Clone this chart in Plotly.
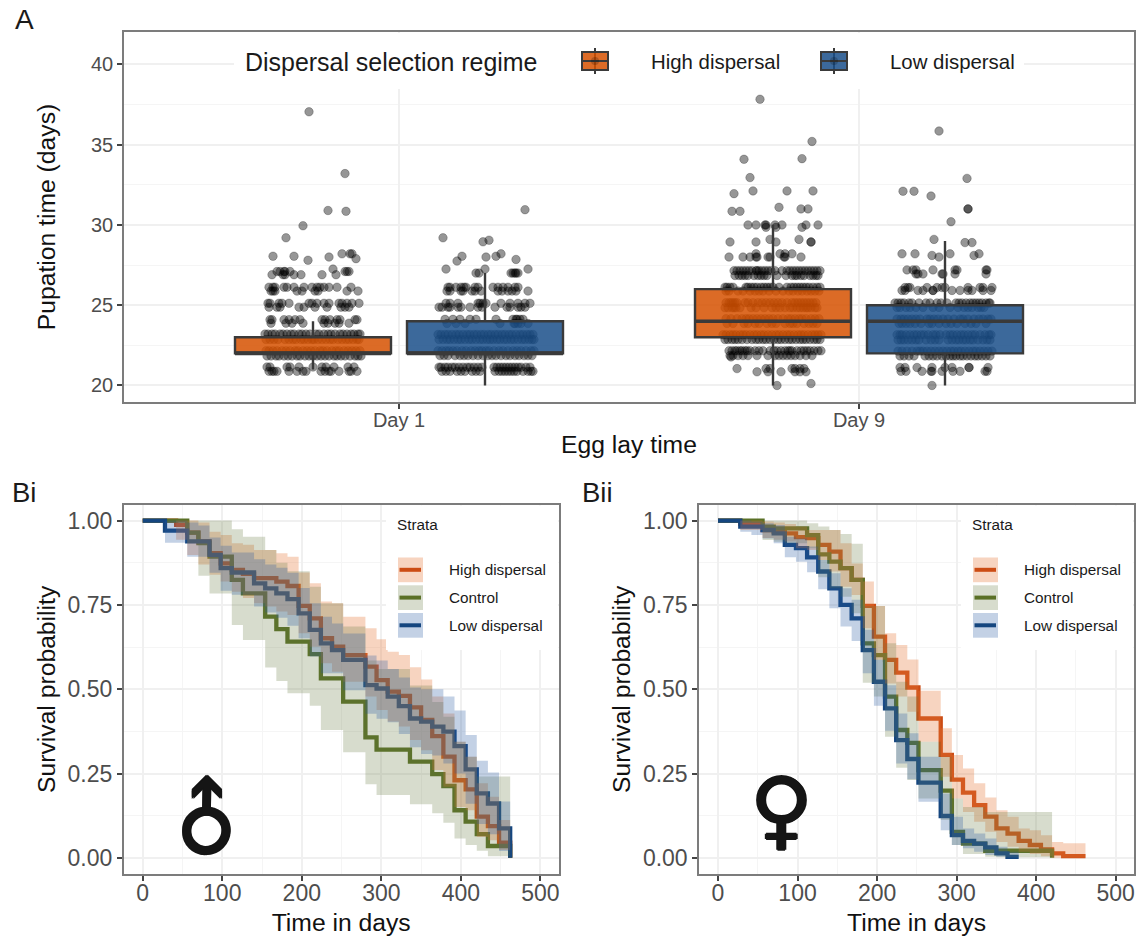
import plotly.graph_objects as go

W, H = 1139, 936
FONT = "Liberation Sans"

# ---------- Panel A: pupation time ----------
group_pos = {"d1_high": -86, "d1_low": 86, "d9_high": 374, "d9_low": 546}
day_ticks = [0, 460]
day_labels = ["Day 1", "Day 9"]
box_width = 156

# five number summaries: low whisker, q1, median, q3, high whisker
d1_high_box = [21, 22, 22, 23, 24]
d1_low_box = [20, 22, 22, 24, 27]
d9_high_box = [20, 23, 24, 26, 30]
d9_low_box = [20, 22, 24, 25, 29]

# (pupation time, horizontal jitter offsets)
d1_high_points = [
    (37.05, [-4]), (33.2, [32]), (30.9, [15]), (30.85, [33]), (29.95, [-10]), (29.2, [-27]),
    (28.05, [-40, -19]), (27.8, [-5]), (28.0, [16]), (28.2, [29, 37, 39]), (27.9, [43]),
    (27.25, [20]), (27.1, [-36, -33, -29, -28, -23, 32, 34, 36]), (26.9, [-41, -30, -28, -19, -12, 9, 23]),
    (26.12, [-44, -40, -38, -29, -26, -19, -9, -1, 4, 7, 11, 16, 24, 38]),
    (25.88, [-42, -40, -38, -16, -11, 2, 5, 34, 45]),
    (25.12, [-45, -43, -34, -31, -24, -4, -1, 4, 11, 16, 26, 29, 34, 39, 46]),
    (24.88, [-44, -36, -33, -14, -9, 2, 14, 28, 32, 36]),
    (24.1, [-43, -41, -29, -24, -18, -13, 9, 12, 17, 24, 27, 42, 44]),
    (23.88, [-42, -27, -21, -10, 11, 15, 22, 26, 36]),
    (23.2, [-48, -45, -41, -38, -33, -30, -26, -22, -19, -14, -11, -7, -3, 3, 6, 11, 15, 18, 22, 27, 30, 34, 38, 41, 45, 47]),
    (22.86, [-47, -43, -39, -35, -28, -24, -20, -17, -12, -9, -5, -1, 1, 5, 9, 13, 17, 20, 25, 29, 33, 36, 40, 44, 46]),
    (22.16, [-47, -44, -40, -36, -31, -27, -23, -18, -15, -10, -6, -2, 2, 7, 10, 14, 19, 23, 26, 31, 35, 39, 43, 47]),
    (21.84, [-46, -42, -37, -34, -29, -25, -21, -16, -13, -8, -4, 0, 4, 8, 12, 16, 21, 24, 28, 32, 37, 42, 45, 48]),
    (21.15, [-46, -43, -26, -23, -14, 0, 9, 13, 21, 35, 41]),
    (20.88, [-44, -41, -39, -36, -24, -16, -10, -7, 8, 12, 16, 18, 26, 36, 38, 44]),
]
d1_low_points = [
    (30.95, [40]), (29.2, [-42]), (28.95, [-2]), (29.05, [4]), (28.2, [16]), (28.05, [11, -23]),
    (28.0, [1]), (27.75, [-28]), (27.85, [31]), (27.25, [-39, 0, 43]),
    (27.0, [-9, -6, 26, 28, 30, 31, 33]),
    (26.12, [-37, -35, -29, -24, -21, -19, -10, -7, 8, 13, 18, 23, 30, 33]),
    (25.88, [-38, -35, -24, -22, -13, -10, -4, 13, 17, 23, 27, 31, 43]),
    (25.12, [-39, -35, -27, -7, -5, -2, 1, 16, 25, 33, 40, 45]),
    (24.88, [-46, -43, -37, -35, -27, -24, -15, -7, -3, 10, 22, 25, 33, 36, 40]),
    (24.12, [-40, -32, -25, -15, -9, 11, 28, 31, 32, 35, 38]),
    (23.86, [-38, -29, -20, 15, 29, 30, 33, 36, 43]),
    (23.18, [-47, -44, -40, -37, -33, -29, -26, -22, -18, -15, -11, -8, -4, -1, 3, 6, 10, 13, 17, 20, 24, 27, 31, 35, 38, 42, 45, 48]),
    (22.86, [-46, -42, -38, -35, -31, -27, -24, -20, -16, -13, -9, -5, -2, 2, 5, 8, 12, 15, 19, 22, 26, 29, 33, 37, 40, 44, 47, 49]),
    (22.16, [-47, -43, -39, -36, -32, -28, -23, -19, -14, -10, -6, -3, 1, 4, 9, 14, 18, 23, 28, 32, 36, 41, 46, 49]),
    (21.86, [-45, -41, -37, -30, -25, -21, -17, -12, -7, -2, 3, 7, 11, 16, 21, 25, 30, 34, 39, 43, 47]),
    (21.14, [-46, -44, -40, -37, -33, -30, -26, -22, -18, -15, -11, -7, -3, 9, 12, 15, 18, 21, 24, 27, 30, 33, 36, 41, 45]),
    (20.88, [-43, -39, -35, -28, -24, -20, -13, -9, -5, 10, 14, 17, 20, 23, 26, 29, 32, 38, 43, 46, 48]),
]
d9_high_points = [
    (37.83, [-13]), (35.2, [39]), (34.09, [-29]), (34.13, [29]), (32.95, [-23]), (32.12, [-20, 14, 40]),
    (31.95, [-39]), (31.1, [6]), (31.0, [28, 35]), (30.85, [-41, -33]),
    (30.0, [-25, -17, -8, -7, 2, 9, 33, 45]), (29.85, [29, -7, 3]),
    (28.94, [-43, -17, 3, 38, 38]), (29.1, [-3, 26]),
    (28.0, [-44, -30, -23, -17, -16, -5, -3, 11, 12, 28]), (28.2, [-17, 7, 19, 12]),
    (27.15, [-39, -36, -33, -30, -27, -24, -21, -17, -16, -14, -11, -8, -5, -2, 2, 9, 14, 17, 20, 23, 26, 29, 32, 35, 38, 41, 44, 47]),
    (26.85, [-38, -34, -31, -28, -25, -19, -15, -12, -9, -6, 4, 13, 19, 22, 24, 28, 31, 37, 40, 43, 45]),
    (26.12, [-48, -46, -43, -40, -27, -25, -22, -19, -16, -12, -9, -6, -3, 0, 6, 14, 18, 21, 24, 27, 30, 33, 36, 40, 44, 47]),
    (25.88, [-47, -44, -35, -30, -23, -18, -14, -10, -4, 3, 10, 16, 20, 25, 29, 34, 38, 42, 46]),
    (25.16, [-47, -44, -42, -40, -38, -36, -28, -25, -20, -15, -11, -7, -3, 1, 5, 9, 14, 19, 22, 25, 28, 31, 34, 37, 40, 43]),
    (24.84, [-48, -45, -41, -39, -37, -33, -22, -17, -9, -1, 3, 7, 12, 17, 20, 24, 27, 30, 33, 35, 38, 42, 44]),
    (24.16, [-47, -42, -36, -31, -27, -24, -20, -16, -12, -8, -4, 0, 5, 10, 15, 18, 22, 26, 29, 33, 38, 42, 46]),
    (23.86, [-46, -40, -29, -25, -18, -14, -6, -1, 3, 12, 17, 20, 24, 31, 36, 40, 44]),
    (23.16, [-50, -47, -43, -40, -37, -33, -30, -27, -23, -19, -16, -12, -9, -5, -1, 3, 6, 10, 14, 17, 21, 25, 28, 31, 35, 39, 42, 45, 48]),
    (22.86, [-48, -45, -41, -38, -35, -31, -26, -21, -17, -14, -10, -7, -3, 1, 5, 8, 12, 16, 19, 23, 27, 30, 33, 37, 41, 44, 47]),
    (22.16, [-44, -41, -38, -36, -33, -31, -28, -26, -23, -18, -14, -10, -3, 1, 4, 8, 12, 15, 17, 19, 24, 28, 31, 34, 37, 41, 45, 48]),
    (21.86, [-43, -40, -35, -30, -25, -16, -5, 2, 6, 10, 14, 18, 22, 27, 33, 39]),
    (21.78, [-42]),
    (21.05, [-36, -7, -3, 19, 22, 27, 31]), (20.85, [-16, 8, 22, 33, -5, 27]),
    (20.12, [38]), (20.0, [4]),
]
d9_low_points = [
    (35.85, [-6]), (32.9, [22]), (32.1, [-42, -31]), (31.8, [-14]), (31.0, [23, 23]), (30.2, [6]),
    (29.1, [-11]), (28.9, [20, 27]), (28.2, [-43, -30, 5, 34]), (28.1, [-13, 29]), (28.0, [-6]),
    (27.2, [-38, -32, -29, -12, 10, 12, 41, 42]), (26.95, [-29, -27, -22, -3, -2, 10, 41]),
    (26.1, [-40, -37, -35, -18, -8, -3, 0, 23, 35, 38, 47]),
    (25.92, [-43, -40, -27, -22, -12, -12, 7, 15, 23, 27, 38, 46]),
    (25.14, [-50, -47, -44, -41, -36, -33, -26, -19, -15, -8, -4, 2, 11, 14, 17, 21, 25, 28, 31, 34, 37, 41, 44, 45]),
    (24.86, [-48, -45, -39, -35, -29, -22, -12, -6, 5, 13, 19, 23, 27, 33, 36, 39]),
    (24.14, [-48, -44, -41, -37, -33, -29, -25, -18, -15, -11, -7, -2, 3, 9, 15, 18, 23, 29, 34, 38, 43, 46]),
    (23.86, [-46, -43, -39, -35, -30, -24, -16, -13, -6, 1, 6, 12, 20, 26, 31, 41]),
    (23.16, [-48, -45, -43, -39, -35, -31, -28, -24, -21, -17, -12, -9, -5, 1, 5, 8, 12, 16, 19, 23, 27, 30, 35, 40, 44, 46]),
    (22.84, [-47, -44, -41, -37, -33, -29, -26, -19, -14, -10, -6, 3, 7, 11, 14, 18, 21, 25, 28, 33, 38, 42, 45]),
    (22.14, [-47, -43, -38, -33, -28, -25, -22, -18, -14, -10, -6, -2, 2, 6, 9, 13, 16, 20, 24, 28, 31, 35, 39, 43, 47]),
    (21.84, [-45, -41, -36, -31, -20, -16, -12, -8, -3, 1, 5, 8, 11, 15, 18, 22, 26, 30, 33, 37, 41, 45]),
    (21.12, [-45, -40, -28, -13, 0, 7, 24, 24, 43]),
    (20.88, [-44, -39, -23, -14, -13, -3, 8, 15, 40, 42]),
    (20.0, [-13]),
]

# ---------- Panels B: survival curves, values at 14-day census times ----------
times = [0, 28, 42, 56, 70, 84, 98, 112, 126, 140, 154, 168, 182, 196, 210, 224, 238, 252,
         280, 294, 308, 322, 336, 350, 364, 378, 392, 406, 420, 434, 448, 462]

male_high = [1, 1, .987, .964, .938, .903, .873, .854, .842, .829, .829, .819, .806, .747, .710, .651, .626, .601, .567, .527, .493, .480, .446, .409, .361, .300, .230, .203, .122, .094, .045, 0]
male_high_up = [1, 1, 1, 1, .994, .967, .957, .933, .928, .913, .913, .903, .893, .846, .814, .760, .755, .715, .681, .648, .611, .601, .565, .529, .478, .428, .344, .300, .221, .181, .112, .112]
male_high_lo = [1, 1, .943, .898, .87, .839, .819, .789, .770, .755, .745, .730, .720, .666, .626, .577, .552, .522, .478, .438, .404, .389, .349, .319, .260, .211, .151, .141, .062, .052, .023, .023]
male_ctrl = [1, 1, 1, .964, .933, .893, .893, .824, .784, .784, .715, .678, .641, .641, .604, .532, .532, .463, .357, .321, .321, .321, .285, .285, .248, .213, .141, .107, .070, .035, .035, 0]
male_ctrl_up = [1, 1, 1, 1, 1, 1, 1, .974, .952, .952, .913, .875, .850, .850, .804, .755, .755, .686, .585, .560, .560, .560, .511, .511, .462, .418, .344, .300, .241, .241, .241, .241]
male_ctrl_lo = [1, 1, 1, .933, .836, .784, .784, .690, .646, .646, .564, .524, .488, .488, .451, .379, .379, .313, .218, .186, .186, .186, .159, .159, .132, .104, .057, .038, .021, .005, .005, .005]
male_low = [1, .970, .970, .938, .938, .898, .859, .846, .846, .814, .799, .784, .767, .725, .676, .636, .616, .587, .512, .502, .478, .450, .413, .404, .389, .374, .331, .262, .191, .161, .087, 0]
male_low_up = [1, 1, 1, .994, .985, .95, .925, .905, .905, .885, .87, .86, .845, .80, .755, .715, .695, .665, .60, .585, .56, .535, .505, .50, .50, .478, .437, .364, .288, .253, .167, .167]
male_low_lo = [1, .934, .934, .893, .893, .845, .792, .780, .780, .745, .727, .712, .688, .651, .597, .547, .547, .497, .427, .412, .402, .367, .328, .308, .303, .28, .25, .16, .10, .07, .02, .02]

female_high = [1, .99, .99, .972, .967, .962, .951, .948, .928, .908, .859, .824, .747, .656, .587, .549, .505, .413, .305, .232, .193, .156, .122, .087, .072, .050, .038, .025, .013, .005, .005, .005]
female_high_up = [1, 1, 1, .997, .994, .990, .982, .972, .972, .972, .933, .873, .819, .747, .666, .631, .588, .495, .384, .305, .265, .221, .179, .141, .122, .087, .082, .067, .047, .043, .043, .043]
female_high_lo = [1, .972, .972, .948, .943, .938, .918, .913, .883, .849, .804, .779, .681, .587, .517, .478, .433, .344, .240, .176, .136, .107, .077, .047, .033, .018, .011, .005, 0, 0, 0, 0]
female_ctrl = [1, 1, 1, .982, .977, .977, .977, .957, .900, .878, .859, .824, .636, .601, .478, .379, .341, .260, .199, .077, .042, .042, .021, .021, .021, .021, .021, .021, 0]
female_ctrl_up = [1, 1, 1, 1, 1, 1, 1, .992, .982, .972, .960, .931, .747, .747, .636, .522, .478, .344, .300, .176, .151, .151, .136, .136, .136, .136, .136, .136, .136]
female_ctrl_lo = [1, 1, 1, .942, .937, .933, .933, .918, .832, .799, .774, .725, .519, .478, .359, .267, .231, .176, .112, .038, .011, .011, .003, .002, .002, .002, .002, .002, .002]
female_low = [1, .982, .982, .972, .962, .928, .918, .891, .849, .799, .750, .710, .616, .522, .443, .349, .293, .223, .124, .067, .050, .042, .031, .013, .003, .003]
female_low_up = [1, 1, .997, .992, .987, .952, .947, .923, .883, .844, .799, .765, .676, .587, .512, .428, .369, .300, .191, .122, .087, .072, .057, .033, .018, .018]
female_low_lo = [1, .967, .957, .947, .933, .891, .878, .847, .796, .740, .686, .643, .547, .451, .377, .280, .233, .166, .082, .038, .028, .018, .008, .003, 0, 0]

strata = ["High dispersal", "Control", "Low dispersal"]
regimes = ["High dispersal", "Low dispersal"]

# ---------- styles ----------
ORANGE_BOX = "rgba(214,81,0,0.85)"
BLUE_BOX = "rgba(26,79,137,0.85)"
BOX_LINE = "#3a3a3a"
LINE_COL = {"High dispersal": "#CC4C14", "Control": "#5A7026", "Low dispersal": "#15467F"}
RIB_COL = {"High dispersal": "rgba(230,120,60,0.32)", "Control": "rgba(100,120,60,0.26)", "Low dispersal": "rgba(40,90,160,0.28)"}
GRID = "#F0F0F0"
MINOR = "#F5F5F5"
BORDER = "#7c7c7c"
TICKTXT = "#4D4D4D"
GLYPH_SHADOW = "1.2px 0 #151515, -1.2px 0 #151515, 0 1.2px #151515, 0 -1.2px #151515"


def fx(px):
    return px / W


def fy(py):
    return 1 - py / H


fig = go.Figure()


def add_points(rows, center):
    xs, ys = [], []
    for val, offs in rows:
        for o in offs:
            xs.append(center + o)
            ys.append(val)
    fig.add_trace(go.Scatter(x=xs, y=ys, mode="markers", showlegend=False, xaxis="x", yaxis="y",
                             marker=dict(size=8.5, color="rgba(0,0,0,0.41)",
                                         line=dict(color="rgba(0,0,0,0.3)", width=0.8)),
                             hoverinfo="y"))


def add_box(summary, center, fill, name):
    fig.add_trace(go.Box(x=[center], lowerfence=[summary[0]], q1=[summary[1]], median=[summary[2]],
                         q3=[summary[3]], upperfence=[summary[4]], width=box_width, whiskerwidth=0,
                         fillcolor=fill, line=dict(color=BOX_LINE, width=2.4), name=name,
                         showlegend=False, boxpoints=False, xaxis="x4", yaxis="y4"))
    # the fattened median bar of the reference
    fig.add_trace(go.Scatter(x=[center - box_width / 2, center + box_width / 2], y=[summary[2], summary[2]],
                             mode="lines", line=dict(color=BOX_LINE, width=3.6), showlegend=False,
                             hoverinfo="skip", xaxis="x4", yaxis="y4"))


add_points(d1_high_points, group_pos["d1_high"])
add_points(d1_low_points, group_pos["d1_low"])
add_points(d9_high_points, group_pos["d9_high"])
add_points(d9_low_points, group_pos["d9_low"])
add_box(d1_high_box, group_pos["d1_high"], ORANGE_BOX, regimes[0])
add_box(d1_low_box, group_pos["d1_low"], BLUE_BOX, regimes[1])
add_box(d9_high_box, group_pos["d9_high"], ORANGE_BOX, regimes[0])
add_box(d9_low_box, group_pos["d9_low"], BLUE_BOX, regimes[1])


def add_survival(curves, xa, ya):
    for name, (s, up, lo) in curves.items():
        fig.add_trace(go.Scatter(x=times[:len(s)], y=s, mode="lines", name=name, showlegend=False,
                                 line=dict(shape="hv", color=LINE_COL[name], width=4.3), xaxis=xa, yaxis=ya))
    for name, (s, up, lo) in curves.items():
        fig.add_trace(go.Scatter(x=times[:len(up)], y=up, mode="lines", showlegend=False, hoverinfo="skip",
                                 line=dict(shape="hv", width=0), xaxis=xa, yaxis=ya))
        fig.add_trace(go.Scatter(x=times[:len(lo)], y=lo, mode="lines", showlegend=False, hoverinfo="skip",
                                 line=dict(shape="hv", width=0), fill="tonexty", fillcolor=RIB_COL[name],
                                 xaxis=xa, yaxis=ya))


add_survival({"High dispersal": (male_high, male_high_up, male_high_lo),
              "Control": (male_ctrl, male_ctrl_up, male_ctrl_lo),
              "Low dispersal": (male_low, male_low_up, male_low_lo)}, "x2", "y2")
add_survival({"High dispersal": (female_high, female_high_up, female_high_lo),
              "Control": (female_ctrl, female_ctrl_up, female_ctrl_lo),
              "Low dispersal": (female_low, female_low_up, female_low_lo)}, "x3", "y3")

shapes = []
annotations = []


def rect(x0, y0, x1, y1, fill, line=None, lw=0):
    shapes.append(dict(type="rect", xref="paper", yref="paper", x0=fx(x0), x1=fx(x1), y0=fy(y0), y1=fy(y1),
                       fillcolor=fill, line=dict(color=line or fill, width=lw), layer="above"))


def seg(x0, y0, x1, y1, color, lw):
    shapes.append(dict(type="line", xref="paper", yref="paper", x0=fx(x0), x1=fx(x1), y0=fy(y0), y1=fy(y1),
                       line=dict(color=color, width=lw), layer="above"))


def label(px, py, text, size, color="#1a1a1a", xanchor="left", font=FONT, angle=0, shadow=None):
    f = dict(family=font, size=size, color=color)
    if shadow:
        f["shadow"] = shadow
    annotations.append(dict(xref="paper", yref="paper", x=fx(px), y=fy(py), text=text, showarrow=False,
                            xanchor=xanchor, yanchor="middle", textangle=angle, borderpad=0, borderwidth=0,
                            font=f))


# Panel A legend
rect(234, 33, 1024, 89, "white")
label(245, 62, "Dispersal selection regime", 24.95)
for cx, fill, name, tx in [(595, ORANGE_BOX, regimes[0], 651), (834, BLUE_BOX, regimes[1], 890)]:
    seg(cx, 48, cx, 74, BOX_LINE, 2)
    rect(cx - 13, 52, cx + 13, 70, fill, BOX_LINE, 2)
    seg(cx - 13, 61, cx + 13, 61, BOX_LINE, 2)
    shapes.append(dict(type="circle", xref="paper", yref="paper", x0=fx(cx - 4), x1=fx(cx + 4), y0=fy(57), y1=fy(65),
                       fillcolor="rgba(0,0,0,0.2)", line=dict(width=0), layer="above"))
    label(tx, 62, name, 20.4)

# Panel B legends
for left, swatch, text_x, strata_x in [(386, 398, 449, 396.5), (961, 973, 1024, 972)]:
    rect(left, 505.5, left + 172, 650, "white")
    label(strata_x, 524, "Strata", 15.3)
    for name, top in zip(strata, [557.5, 585.3, 613]):
        rect(swatch, top, swatch + 25, top + 24.7, RIB_COL[name])
        seg(swatch + 1.5, top + 12.3, swatch + 23, top + 12.3, LINE_COL[name], 4)
        label(text_x, top + 12.3, name, 15.3)

# Panel tags and sex symbols
label(15, 19, "A", 28)
label(12, 492, "Bi", 27.5)
label(582, 492, "Bii", 27.5)
label(206, 821, "♂", 84, color="#151515", xanchor="center", font="DejaVu Sans", angle=-45, shadow=GLYPH_SHADOW)
label(781, 809, "♀", 86, color="#151515", xanchor="center", font="DejaVu Sans", shadow=GLYPH_SHADOW)

tickfont = dict(family=FONT, size=20, color=TICKTXT)
tickfont_b = dict(family=FONT, size=23, color=TICKTXT)
titlefont = dict(family=FONT, size=24.7, color="#111111")
common = dict(showline=True, linecolor=BORDER, linewidth=1.5, mirror=True, ticks="outside", ticklen=5,
              tickcolor="#444444", tickwidth=1.5, zeroline=False, showgrid=True, gridcolor=GRID, gridwidth=1.6)

a_xrange = [-275, 735]
a_yrange = [18.97, 42.02]
b_xrange = [-23.9, 523]
b_yrange = [-0.048, 1.047]

fig.update_layout(
    width=W, height=H, margin=dict(l=0, r=0, t=0, b=0), autosize=False,
    paper_bgcolor="white", plot_bgcolor="white", showlegend=False, boxmode="overlay",
    font=dict(family=FONT), shapes=shapes, annotations=annotations,
    xaxis=dict(domain=[fx(124), fx(1134)], range=a_xrange, tickmode="array", tickvals=day_ticks, ticktext=day_labels,
               tickfont=tickfont, ticklabelstandoff=-6, title=dict(text="Egg lay time", font=titlefont, standoff=6), anchor="y", **common),
    yaxis=dict(domain=[fy(402), fy(32)], range=a_yrange, tickmode="array", tickvals=[20, 25, 30, 35, 40],
               minor=dict(tickvals=[22.5, 27.5, 32.5, 37.5], showgrid=True, gridcolor=MINOR, gridwidth=1, ticks=""),
               tickfont=tickfont, title=dict(text="Pupation time (days)", font=titlefont, standoff=28), anchor="x", **common),
    xaxis4=dict(overlaying="x", range=a_xrange, visible=False, anchor="y4", domain=[fx(124), fx(1134)]),
    yaxis4=dict(overlaying="y", range=a_yrange, visible=False, anchor="x4", domain=[fy(402), fy(32)]),
)
for n, (l, r) in {2: (123.7, 558.7), 3: (699, 1134)}.items():
    fig.update_layout({
        f"xaxis{n}": dict(domain=[fx(l), fx(r)], range=b_xrange, tickmode="array", tickvals=[0, 100, 200, 300, 400, 500],
                          minor=dict(tickvals=[50, 150, 250, 350, 450], showgrid=True, gridcolor=MINOR, gridwidth=1, ticks=""),
                          tickfont=tickfont_b, ticklabelstandoff=-7, title=dict(text="Time in days", font=titlefont, standoff=10), anchor=f"y{n}", **common),
        f"yaxis{n}": dict(domain=[fy(874), fy(504.7)], range=b_yrange, tickmode="array", tickvals=[0, .25, .5, .75, 1],
                          ticktext=["0.00", "0.25", "0.50", "0.75", "1.00"],
                          minor=dict(tickvals=[.125, .375, .625, .875], showgrid=True, gridcolor=MINOR, gridwidth=1, ticks=""),
                          tickfont=tickfont_b, title=dict(text="Survival probability", font=titlefont, standoff=5), anchor=f"x{n}", **common),
    })

fig.write_html("out.html", post_script="document.body.style.margin='0';", config={"displayModeBar": False})
